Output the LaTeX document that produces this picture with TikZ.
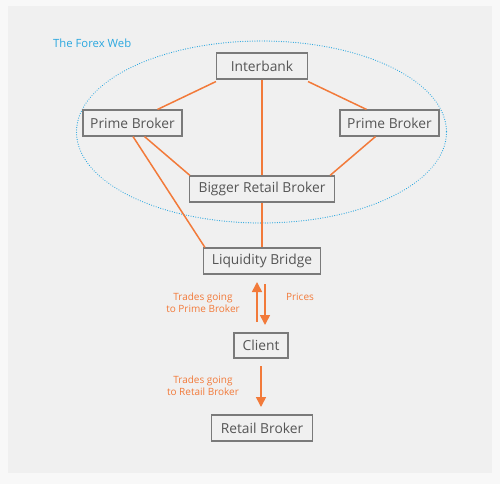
\documentclass[tikz,border=0pt]{standalone}
\usepackage{fontspec}
\setmainfont{Open Sans}
\usetikzlibrary{arrows.meta}
\definecolor{orng}{HTML}{F27A3A}
\definecolor{webblue}{HTML}{2AA7DF}
\definecolor{boxgray}{HTML}{7A7A7A}
\definecolor{txtgray}{HTML}{555555}
\definecolor{panel}{HTML}{F0F0F0}
\definecolor{outer}{HTML}{F8F8F8}
\tikzset{
  x=1pt,y=-1pt,
  entity/.style={draw=boxgray,line width=1.1pt,text=txtgray,inner sep=0pt,
    font=\fontsize{13.8}{15}\selectfont,minimum height=26pt,anchor=center},
  link/.style={draw=orng,line width=1.5pt},
  flow/.style={draw=orng,line width=1.6pt,-{Triangle[width=10pt,length=10pt]}},
  lbl/.style={text=orng,font=\fontsize{10}{12}\selectfont,align=center,inner sep=0pt},
}
\begin{document}
\begin{tikzpicture}
\useasboundingbox (0,0) rectangle (500,484);
\fill[outer] (0,0) rectangle (500,484);
\fill[panel] (8,6) rectangle (492,473);
\draw[webblue,line width=1.2pt,dash pattern=on 0.01pt off 2.4pt,line cap=round] (261.5,132) ellipse [x radius=185, y radius=91];
\node[text=webblue,font=\fontsize{11.3}{12}\selectfont,anchor=west,inner sep=0pt] (title) at (53,43) {The Forex Web};
\node[entity,minimum width=91pt] (ib) at (262,66) {Interbank};
\node[entity,minimum width=99pt] (pbl) at (132.5,123) {Prime Broker};
\node[entity,minimum width=99pt] (pbr) at (389.5,123) {Prime Broker};
\node[entity,minimum width=145pt] (brb) at (262,189) {Bigger Retail Broker};
\node[entity,minimum width=117pt] (lb) at (262,261) {Liquidity Bridge};
\node[entity,minimum width=54pt,minimum height=25pt] (cl) at (261,345.5) {Client};
\node[entity,minimum width=101pt] (rb) at (262,428) {Retail Broker};
% links
\draw[link] ([yshift=-2pt]ib.south west) -- ([xshift=25pt]pbl.north);
\draw[link] ([yshift=-2pt]ib.south east) -- ([xshift=-23pt]pbr.north);
\draw[link] (ib.south) -- (brb.north);
\draw[link] ([xshift=12pt]pbl.south) -- ([xshift=1pt]brb.north west);
\draw[link] ([xshift=0.5pt]pbl.south) -- ([xshift=2pt]lb.north west);
\draw[link] ([xshift=-14pt]pbr.south) -- ([xshift=-5pt]brb.north east);
\draw[link] (brb.south) -- (lb.north);
% flows
\coordinate (u0) at (257,322);
\coordinate (u1) at (257,282);
\coordinate (d0) at (265,284);
\coordinate (d1) at (265,325);
\coordinate (c0) at (261,366);
\coordinate (c1) at (261,407);
\draw[flow] (u0) -- (u1);
\draw[flow] (d0) -- (d1);
\draw[flow] (c0) -- (c1);
\node[lbl] (t1) at (203,303) {Trades going\\to Prime Broker};
\node[lbl] (t2) at (300,297) {Prices};
\node[lbl] (t3) at (203,386) {Trades going\\to Retail Broker};
\end{tikzpicture}
\end{document}
